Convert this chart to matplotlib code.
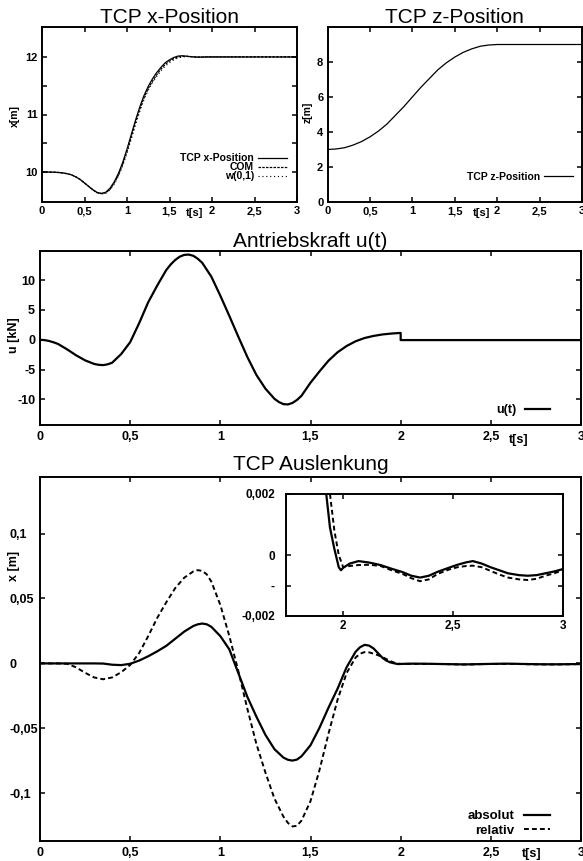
import matplotlib.pyplot as plt

#----------------------------------------------------------------------------------
# Data

# Common time ticks (German decimal comma)
time_ticks = [0, 0.5, 1, 1.5, 2, 2.5, 3]
time_tick_labels = ['0', '0,5', '1', '1,5', '2', '2,5', '3']

# TCP x-Position [m], sampled every 0.05 s up to 2 s
t_pos = [round(0.05 * i, 2) for i in range(41)] + [2.5, 3.0]
x_tcp = [10.0, 10.0, 9.999, 9.997, 9.992, 9.984, 9.97, 9.95, 9.915, 9.87, 9.81, 9.75, 9.69,
         9.645, 9.63, 9.65, 9.72, 9.83, 9.98, 10.17, 10.40, 10.65, 10.90, 11.13, 11.33, 11.49,
         11.62, 11.73, 11.82, 11.90, 11.95, 11.99, 12.015, 12.02, 12.012, 12.004, 11.998,
         11.996, 11.998, 12.0, 12.0, 12.0, 12.0]
x_com = [10.0, 10.0, 9.999, 9.997, 9.992, 9.984, 9.97, 9.95, 9.915, 9.87, 9.81, 9.75, 9.69,
         9.64, 9.625, 9.64, 9.70, 9.81, 9.95, 10.14, 10.36, 10.61, 10.86, 11.09, 11.29, 11.45,
         11.58, 11.69, 11.79, 11.87, 11.93, 11.97, 12.0, 12.012, 12.012, 12.006, 12.0,
         11.998, 11.998, 12.0, 12.0, 12.0, 12.0]
x_w01 = [10.0, 10.0, 9.999, 9.997, 9.992, 9.984, 9.97, 9.95, 9.915, 9.87, 9.81, 9.75, 9.69,
         9.64, 9.62, 9.63, 9.69, 9.79, 9.93, 10.11, 10.33, 10.57, 10.82, 11.05, 11.26, 11.42,
         11.55, 11.66, 11.76, 11.84, 11.90, 11.95, 11.98, 12.0, 12.005, 12.005, 12.0,
         11.999, 12.0, 12.0, 12.0, 12.0, 12.0]
x_ticks = [10, 10.5, 11, 11.5, 12]
x_tick_labels = ['10', '', '11', '', '12']

# TCP z-Position [m]
t_z = [round(0.1 * i, 1) for i in range(21)] + [3.0]
z_tcp = [3.0, 3.03, 3.1, 3.25, 3.45, 3.72, 4.05, 4.45, 4.95, 5.45, 6.0, 6.55, 7.05, 7.55,
         7.95, 8.28, 8.55, 8.75, 8.9, 8.97, 9.0, 9.0]
z_ticks = [0, 2, 4, 6, 8]
z_tick_labels = ['0', '2', '4', '6', '8']

# Drive force u(t) [kN], switched off at t = 2 s
t_u = [0.0, 0.025, 0.05, 0.075, 0.10, 0.15, 0.20, 0.25, 0.30, 0.325, 0.35, 0.375, 0.40,
       0.45, 0.50, 0.55, 0.60, 0.65, 0.70, 0.725, 0.75, 0.775, 0.80, 0.825, 0.85, 0.875,
       0.90, 0.95, 1.00, 1.05, 1.10, 1.15, 1.20, 1.25, 1.30, 1.325, 1.35, 1.375, 1.40,
       1.425, 1.45, 1.50, 1.55, 1.60, 1.65, 1.70, 1.75, 1.80, 1.85, 1.90, 1.95, 2.00,
       2.00, 3.00]
u_force = [0.0, -0.05, -0.2, -0.42, -0.7, -1.6, -2.6, -3.45, -4.05, -4.2, -4.25, -4.12,
           -3.85, -2.4, -0.4, 2.8, 6.3, 9.1, 11.7, 12.65, 13.4, 13.95, 14.25, 14.3, 14.1,
           13.6, 12.9, 10.6, 7.4, 4.0, 0.5, -2.9, -5.9, -8.2, -9.9, -10.45, -10.8, -10.85,
           -10.6, -10.1, -9.4, -7.2, -5.3, -3.5, -2.1, -1.05, -0.25, 0.3, 0.65, 0.9, 1.05,
           1.15, -0.05, -0.05]
u_ticks = [-10, -5, 0, 5, 10]
u_tick_labels = ['-10', '-5', '0', '5', '10']

# TCP deflection [m], absolute and relative
t_defl = [0.00, 0.05, 0.10, 0.15, 0.20, 0.25, 0.30, 0.35, 0.40, 0.45, 0.50, 0.55, 0.60,
          0.65, 0.70, 0.75, 0.80, 0.85, 0.875, 0.90, 0.925, 0.95, 1.00, 1.05, 1.10, 1.15,
          1.20, 1.25, 1.30, 1.35, 1.375, 1.40, 1.425, 1.45, 1.50, 1.55, 1.60, 1.65, 1.70,
          1.75, 1.775, 1.80, 1.825, 1.85, 1.875, 1.90, 1.92, 1.94, 1.96, 1.98, 1.99, 2.00,
          2.03, 2.07, 2.12, 2.17, 2.22, 2.27, 2.31, 2.35, 2.39, 2.43, 2.48, 2.52, 2.56,
          2.59, 2.63, 2.67, 2.71, 2.75, 2.80, 2.84, 2.88, 2.92, 2.96, 3.00]
defl_abs = [0.0, 0.0, 0.0, 0.0, 0.0, 0.0, 0.0, -0.0001, -0.001, -0.0013, -0.0003, 0.0022,
            0.0055, 0.0093, 0.0135, 0.019, 0.0245, 0.0288, 0.0301, 0.0307, 0.0301, 0.0282,
            0.021, 0.0108, -0.0075, -0.0258, -0.041, -0.055, -0.066, -0.0725, -0.0742,
            -0.0748, -0.074, -0.0715, -0.063, -0.0495, -0.034, -0.0195, -0.003, 0.009,
            0.0125, 0.0143, 0.0137, 0.0115, 0.0078, 0.0042,
            0.0022, 0.0009, 0.0002, -0.0004, -0.0005, -0.00042,
            -0.00028, -0.0002, -0.00025, -0.00033, -0.00045, -0.00056, -0.00068, -0.00074,
            -0.00068, -0.00055, -0.00042, -0.00032, -0.00024, -0.0002, -0.00028, -0.0004,
            -0.0005, -0.0006, -0.00066, -0.00068, -0.00066, -0.0006, -0.00054, -0.00046]
defl_rel = [0.0, 0.0, 0.0, -0.0003, -0.003, -0.0072, -0.0108, -0.0122, -0.0108, -0.0068,
            -0.0012, 0.008, 0.021, 0.035, 0.047, 0.058, 0.066, 0.0708, 0.0718, 0.0712,
            0.0685, 0.063, 0.045, 0.021, -0.006, -0.035, -0.062, -0.084, -0.104, -0.118,
            -0.1228, -0.1255, -0.125, -0.121, -0.106, -0.082, -0.054, -0.028, -0.0075,
            0.0045, 0.0075, 0.0087, 0.0085, 0.0075, 0.0063, 0.0048,
            0.0034, 0.002, 0.0008, 0.0, -0.0002, -0.0004,
            -0.00036, -0.00033, -0.00032, -0.00036, -0.0005, -0.00062, -0.00076, -0.00086,
            -0.0008, -0.00062, -0.00048, -0.0004, -0.00036, -0.00035, -0.0004, -0.00052,
            -0.00064, -0.00074, -0.0008, -0.00082, -0.00078, -0.00068, -0.0006, -0.0005]
defl_ticks = [-0.1, -0.05, 0, 0.05, 0.1]
defl_tick_labels = ['-0,1', '-0,05', '0', '0,05', '0,1']

# Zoomed view after the force is switched off
zoom_x_ticks = [2, 2.5, 3]
zoom_x_tick_labels = ['2', '2,5', '3']
zoom_y_ticks = [-0.002, -0.001, 0, 0.002]
zoom_y_tick_labels = ['-0,002', '-', '0', '0,002']

#----------------------------------------------------------------------------------
# Styling helpers

plt.rcParams['font.family'] = ['Liberation Sans', 'DejaVu Sans']
plt.rcParams['lines.solid_joinstyle'] = 'round'
plt.rcParams['lines.dash_joinstyle'] = 'round'

W, H = 583, 861


def frame(left, top, right, bottom):
    """Axes rectangle from pixel edges."""
    return [left / W, 1 - bottom / H, (right - left) / W, (bottom - top) / H]


def style_axes(ax, xticks, xlabels, yticks, ylabels, size, xpad=3, ypad=3):
    for spine in ax.spines.values():
        spine.set_linewidth(1.4)
    ax.set_xticks(xticks, xlabels, fontweight='bold', fontsize=size)
    ax.set_yticks(yticks, ylabels, fontweight='bold', fontsize=size)
    ax.tick_params(axis='both', direction='in', top=True, right=True,
                   length=3.6, width=1.1, color='black')
    ax.tick_params(axis='x', pad=xpad)
    ax.tick_params(axis='y', pad=ypad)


def add_legend(ax, anchor, size, spacing=0.1, handlelength=2.5, textpad=0.7):
    ax.legend(loc='lower right', bbox_to_anchor=anchor, frameon=False, markerfirst=False,
              prop={'weight': 'bold', 'size': size}, borderpad=0, borderaxespad=0,
              labelspacing=spacing, handlelength=handlelength, handletextpad=textpad)


fig = plt.figure(figsize=(W / 100, H / 100), dpi=100)

#----------------------------------------------------------------------------------
# TCP x-Position

ax1 = fig.add_axes(frame(42, 27, 297, 202))
ax1.plot(t_pos, x_tcp, color='black', lw=0.9, label='TCP x-Position')
ax1.plot(t_pos, x_com, color='black', lw=0.9, ls=(0, (2, 1)), label='COM')
ax1.plot(t_pos, x_w01, color='black', lw=0.8, ls=(0, (1, 2.5)), label='w(0,1)')
ax1.set_xlim(0, 3)
ax1.set_ylim(9.48, 12.52)
style_axes(ax1, time_ticks, time_tick_labels, x_ticks, x_tick_labels, 8)
ax1.set_title('TCP x-Position', fontsize=15, pad=3)
ax1.set_xlabel('t[s]', fontweight='bold', fontsize=8)
ax1.xaxis.set_label_coords(0.6, -0.034)
ax1.set_ylabel('x[m]', fontweight='bold', fontsize=7.5)
ax1.yaxis.set_label_coords(-0.086, 0.49)
add_legend(ax1, (0.962, 0.118), 7.5, spacing=-0.1, handlelength=2.8, textpad=0.4)

#----------------------------------------------------------------------------------
# TCP z-Position

ax2 = fig.add_axes(frame(327.5, 27, 582, 202))
ax2.plot(t_z, z_tcp, color='black', lw=0.9, label='TCP z-Position')
ax2.set_xlim(0, 3)
ax2.set_ylim(0, 10)
style_axes(ax2, time_ticks, time_tick_labels, z_ticks, z_tick_labels, 8)
ax2.set_title('TCP z-Position', fontsize=15, pad=3)
ax2.set_xlabel('t[s]', fontweight='bold', fontsize=8)
ax2.xaxis.set_label_coords(0.607, -0.034)
ax2.set_ylabel('z[m]', fontweight='bold', fontsize=7.5)
ax2.yaxis.set_label_coords(-0.057, 0.51)
add_legend(ax2, (0.965, 0.115), 7.5, handlelength=2.8, textpad=0.4)

#----------------------------------------------------------------------------------
# Antriebskraft u(t)

ax3 = fig.add_axes(frame(40, 251, 581, 425))
ax3.plot(t_u, u_force, color='black', lw=1.6, label='u(t)')
ax3.set_xlim(0, 3)
ax3.set_ylim(-14.3, 14.9)
style_axes(ax3, time_ticks, time_tick_labels, u_ticks, u_tick_labels, 9, xpad=4.5, ypad=3.5)
ax3.set_title('Antriebskraft u(t)', fontsize=15, pad=3)
ax3.set_xlabel('t[s]', fontweight='bold', fontsize=9)
ax3.xaxis.set_label_coords(0.885, -0.05)
ax3.set_ylabel('u [kN]', fontweight='bold', fontsize=9)
ax3.yaxis.set_label_coords(-0.037, 0.517)
add_legend(ax3, (0.943, 0.05), 9, handlelength=2.0)

#----------------------------------------------------------------------------------
# TCP Auslenkung

ax4 = fig.add_axes(frame(40, 477, 581, 841))
ax4.plot(t_defl, defl_abs, color='black', lw=1.6, label='absolut')
ax4.plot(t_defl, defl_rel, color='black', lw=1.4, ls=(0, (2.5, 1.6)), label='relativ')
ax4.set_xlim(0, 3)
ax4.set_ylim(-0.1367, 0.1435)
style_axes(ax4, time_ticks, time_tick_labels, defl_ticks, defl_tick_labels, 9,
           xpad=4, ypad=21.6)
for label in ax4.get_yticklabels():
    label.set_horizontalalignment('left')
ax4.set_title('TCP Auslenkung', fontsize=15, pad=5)
ax4.set_xlabel('t[s]', fontweight='bold', fontsize=9)
ax4.xaxis.set_label_coords(0.909, -0.019)
ax4.set_ylabel('x [m]', fontweight='bold', fontsize=9)
ax4.yaxis.set_label_coords(-0.037, 0.757)
add_legend(ax4, (0.943, 0.012), 9.5, spacing=0.15, handlelength=2.0)

# Inset: residual oscillation after 2 s
ax5 = fig.add_axes(frame(286, 494, 563, 616))
ax5.plot(t_defl, defl_abs, color='black', lw=1.6)
ax5.plot(t_defl, defl_rel, color='black', lw=1.4, ls=(0, (2.5, 1.6)))
ax5.set_xlim(1.74, 3)
ax5.set_ylim(-0.002, 0.002)
style_axes(ax5, zoom_x_ticks, zoom_x_tick_labels, zoom_y_ticks, zoom_y_tick_labels, 8.5,
           xpad=3, ypad=8)

plt.savefig('out.png', dpi=100)
